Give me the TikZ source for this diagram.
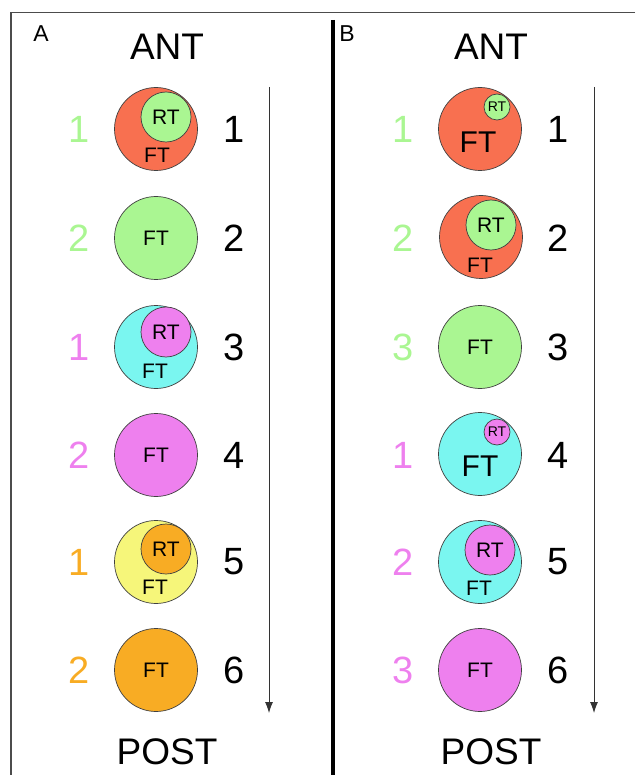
\documentclass[tikz,border=0pt]{standalone}
\usepackage{fontspec}
\setmainfont{Liberation Sans}
\usetikzlibrary{arrows.meta}

\definecolor{tred}{RGB}{248,112,80}
\definecolor{tgreen}{RGB}{170,246,146}
\definecolor{tcyan}{RGB}{122,246,240}
\definecolor{tviolet}{RGB}{238,128,238}
\definecolor{tyellow}{RGB}{246,246,122}
\definecolor{torange}{RGB}{248,172,36}

\newcommand{\fs}[1]{\fontsize{#1}{#1}\selectfont}

\begin{document}
\begin{tikzpicture}[x=1pt, y=-1pt,
  ftc/.style={circle, draw=black!75, line width=0.7pt, minimum size=83pt, inner sep=0pt},
  rtc/.style={circle, draw=black!75, line width=0.7pt, minimum size=50pt, inner sep=0pt, font=\fs{21}},
  rts/.style={circle, draw=black!75, line width=0.7pt, minimum size=26pt, inner sep=0pt, font=\fs{14}},
  txt/.style={inner sep=0pt, font=\fs{21}},
  num/.style={inner sep=0pt, font=\fs{38}},
  head/.style={inner sep=0pt, font=\fs{37}},
  panel/.style={inner sep=0pt, font=\fs{23}},
  flow/.style={draw=black!80, line width=0.8pt, -{Latex[length=11pt,width=8pt]}}]
\useasboundingbox (0,0) rectangle (635,775);

% frame and divider
\draw[black!70, line width=1.5pt] (635,12.5) -- (11,12.5) -- (11,775);
\draw[line width=4pt] (333,20) -- (333,775);

% panel A
\node[panel] (pa) at (41,34) {A};
\node[head] (anta) at (167,47) {ANT};
\node[head] (posta) at (167,752) {POST};
\coordinate (sa) at (269,87);
\coordinate (ea) at (269,713);
\draw[flow] (sa) -- (ea);

\node[ftc, fill=tred] (a1) at (156,129) {};
\node[rtc, fill=tgreen] (a1r) at (166,117) {RT};
\node[txt] (a1f) at (157,155) {FT};
\node[num, text=tgreen] (a1n) at (79,129) {1};

\node[ftc, fill=tgreen, font=\fs{21}] (a2) at (156,238) {FT};
\node[num, text=tgreen] (a2n) at (79,238) {2};

\node[ftc, fill=tcyan] (a3) at (156,347) {};
\node[rtc, fill=tviolet] (a3r) at (166,332) {RT};
\node[txt] (a3f) at (155,371) {FT};
\node[num, text=tviolet] (a3n) at (79,347) {1};

\node[ftc, fill=tviolet, font=\fs{21}] (a4) at (156,455) {FT};
\node[num, text=tviolet] (a4n) at (79,455) {2};

\node[ftc, fill=tyellow] (a5) at (156,562) {};
\node[rtc, fill=torange] (a5r) at (166,549) {RT};
\node[txt] (a5f) at (155,587) {FT};
\node[num, text=torange] (a5n) at (79,562) {1};

\node[ftc, fill=torange, font=\fs{21}] (a6) at (156,670) {FT};
\node[num, text=torange] (a6n) at (79,670) {2};

% panel B
\node[panel] (pb) at (347,34) {B};
\node[head] (antb) at (491,47) {ANT};
\node[head] (postb) at (491,752) {POST};
\coordinate (sb) at (594,87);
\coordinate (eb) at (594,713);
\draw[flow] (sb) -- (eb);

\node[ftc, fill=tred] (b1) at (480,129) {};
\node[rts, fill=tgreen] (b1r) at (497,107) {RT};
\node[txt, font=\fs{30}] (b1f) at (478,142) {FT};
\node[num, text=tgreen] (b1n) at (403,129) {1};

\node[ftc, fill=tred] (b2) at (481,237) {};
\node[rtc, fill=tgreen] (b2r) at (491,225) {RT};
\node[txt] (b2f) at (480,265) {FT};
\node[num, text=tgreen] (b2n) at (403,238) {2};

\node[ftc, fill=tgreen, font=\fs{21}] (b3) at (480,347) {FT};
\node[num, text=tgreen] (b3n) at (403,347) {3};

\node[ftc, fill=tcyan] (b4) at (480,454) {};
\node[rts, fill=tviolet] (b4r) at (497,432) {RT};
\node[txt, font=\fs{30}] (b4f) at (480,466) {FT};
\node[num, text=tviolet] (b4n) at (403,455) {1};

\node[ftc, fill=tcyan] (b5) at (480,562) {};
\node[rtc, fill=tviolet] (b5r) at (490,550) {RT};
\node[txt] (b5f) at (479,588) {FT};
\node[num, text=tviolet] (b5n) at (403,562) {2};

\node[ftc, fill=tviolet, font=\fs{21}] (b6) at (480,670) {FT};
\node[num, text=tviolet] (b6n) at (403,670) {3};

% order numbers
\foreach \i/\y in {1/129, 2/238, 3/347, 4/455, 5/562, 6/670} {
  \node[num] (ka\i) at (234,\y) {\i};
  \node[num] (kb\i) at (558,\y) {\i};
}
\end{tikzpicture}
\end{document}
